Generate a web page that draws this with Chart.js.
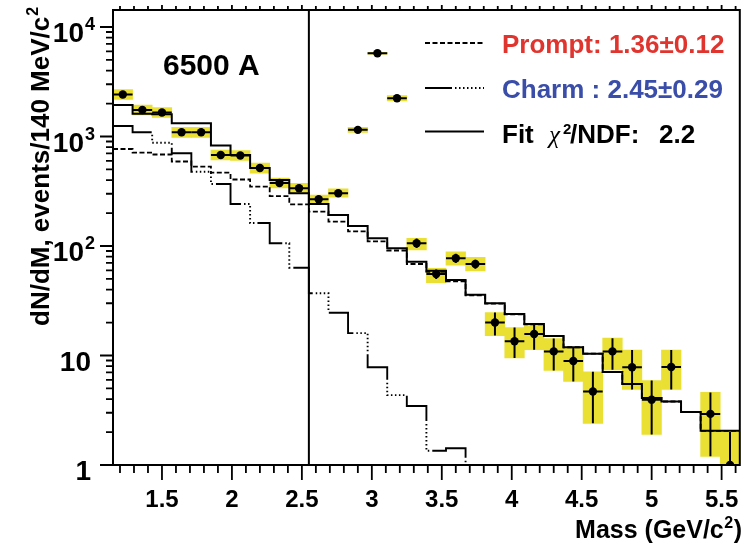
<!DOCTYPE html>
<html>
<head>
<meta charset="utf-8">
<title>6500 A dimuon mass spectrum</title>
<script src="https://cdn.jsdelivr.net/npm/chart.js@4.4.1/dist/chart.umd.min.js"></script>
<style>
html,body{margin:0;padding:0;background:#ffffff;}
#c{display:block;}
</style>
</head>
<body>
<canvas id="c" width="744" height="545"></canvas>
<script>
// ---------------- data ----------------
const massBins = [1.22,1.36,1.50,1.64,1.78,1.92,2.06,2.20,2.34,2.48,2.62,2.76,2.90,3.04,3.18,3.32,
                  3.46,3.60,3.74,3.88,4.02,4.16,4.30,4.44,4.58,4.72,4.86,5.00,5.14,5.28,5.42,5.56];
const binWidth = 0.14;
const fitBoundary = 2.55;
const xMin = 1.15, xMax = 5.63, yMin = 1, yMax = 14300;

const dataCounts = [2420,1746,1656,1092,1092,678,671,515,376,337,267,303,1150,5750,2235,106,
                    55.5,77.3,68.5,20.0,13.5,15.7,10.9,8.9,4.7,10.9,7.8,3.95,7.85,null,2.93,1.0];
const boxLow  = [2180,1573,1490,983,983,610,604,463,339,303,242,279,1087,5640,2110,91.9,
                 46.2,67.0,59.2,15.2,9.5,11.3,7.3,5.8,2.4,7.4,4.9,1.9,4.9,null,1.2,0.5];
const boxHigh = [2685,1938,1840,1214,1214,752,745,572,418,374,292,332,1210,5860,2370,117.5,
                 62.5,88.7,78.9,24.7,18.0,19.7,14.3,11.7,7.1,14.4,11.2,5.9,11.2,null,4.6,2.0];
const statLow  = [2350,1700,1610,1060,1060,655,650,497,362,324,256,291,1120,5650,2180,96,
                  50,70,62,15.2,9.5,11.3,7.3,5.8,2.4,7.4,4.9,1.9,4.9,null,1.2,0.5];
const statHigh = [2490,1790,1700,1125,1125,700,692,533,390,350,278,315,1180,5850,2290,117,
                  61,85,75,24.7,18.0,19.7,14.3,11.7,7.1,14.4,11.2,5.9,11.2,null,4.6,2.0];

const fitHist    = [1941,1610,1600,1321,1321,828,678,515,401,303,242,192,152,117.6,95.3,72,
                    59.5,48.9,35.8,30.0,23.9,19.4,15.1,11.9,10.4,7.06,5.5,4.1,3.8,3.05,2.05,2.05];
const promptHist = [769,714,685,591,530,467,405,348,286,240,206,167,136,110,91,68.5,
                    58.2,47.5,35.5,29.8,23.8,19.3,15.0,11.9,10.4,7.05,5.5,4.1,3.8,3.05,2.05,2.05];
const charmHist  = [1247,1092,877,703,477,368,242,162,106,63.4,37,24.6,16,7.8,4.35,3.46,
                    1.35,1.42,0.6,0.45,0.35,0.25,0.2,0.15,0.12,0.09,0.07,0.05,0.04,0.03,0.02,0.02];

const xTickValues = [1.5,2,2.5,3,3.5,4,4.5,5,5.5];
const xTickLabels = ['1.5','2','2.5','3','3.5','4','4.5','5','5.5'];
const yTickValues = [1,10,100,1000,10000];
const yTickMantissa = ['1','10','10','10','10'];
const yTickExponent = ['','','2','3','4'];

const panelTitle = '6500 A';
const xTitle = ['Mass (GeV/c', '2', ')'];
const yTitle = ['dN/dM, events/140 MeV/c', '2'];
const legendPrompt = 'Prompt: 1.36\u00B10.12';
const legendCharm  = 'Charm : 2.45\u00B10.29';
const legendFit = ['Fit', '\u03C7', '2', '/NDF:', '2.2'];

// ---------------- styles ----------------
const FONT = '"Liberation Sans", Arial, Helvetica, sans-serif';
const YELLOW = 'rgb(234,224,52)';
const RED = '#E0352F';
const BLUE = '#3A4DA8';
const promptDash = [5, 2.5];
const charmDash = [45,3,1.5,2.5,1.5,2.5,1.5,2.5,1.5,2.5,1.5,2.5,1.5,2.5,1.5,2.5,1.5,3];
const charmLegendDash = [27,3,1.5,2.5,1.5,2.5,1.5,2.5,1.5,2.5,1.5,2.5,1.5,2.5,1.5,2.5,1.5,3];

function histSteps(values) {
  const pts = values.map((v, i) => ({x: massBins[i] - binWidth / 2, y: v}));
  const last = values.length - 1;
  pts.push({x: massBins[last] + binWidth / 2, y: values[last]});
  return pts;
}
const boxData = [];
const pointData = [];
massBins.forEach((m, i) => {
  if (dataCounts[i] == null) return;
  boxData.push({x: m, y: [boxLow[i], boxHigh[i]]});
  pointData.push({x: m, y: dataCounts[i]});
});

const rootStyle = {
  id: 'rootStyle',
  beforeDatasetDraw(chart, args) {
    if (args.index !== 0) return;
    const {ctx, chartArea: a, scales: {x, y}} = chart;
    ctx.save();
    ctx.beginPath();
    ctx.rect(a.left, a.top, a.right - a.left, a.bottom - a.top);
    ctx.clip();
    ctx.strokeStyle = '#000';
    ctx.lineWidth = 2;
    massBins.forEach((m, i) => {
      if (dataCounts[i] == null) return;
      const px = x.getPixelForValue(m);
      const py = y.getPixelForValue(dataCounts[i]);
      ctx.beginPath();
      ctx.moveTo(x.getPixelForValue(m - binWidth / 2), py);
      ctx.lineTo(x.getPixelForValue(m + binWidth / 2), py);
      ctx.moveTo(px, y.getPixelForValue(statLow[i]));
      ctx.lineTo(px, y.getPixelForValue(statHigh[i]));
      ctx.stroke();
    });
    ctx.restore();
  },
  afterDraw(chart) {
    const {ctx, chartArea: a, scales: {x, y}} = chart;
    ctx.save();
    ctx.strokeStyle = '#000';
    ctx.fillStyle = '#000';
    ctx.setLineDash([]);
    // fit-region boundary
    ctx.lineWidth = 2;
    const bx = x.getPixelForValue(fitBoundary);
    ctx.beginPath(); ctx.moveTo(bx, a.top); ctx.lineTo(bx, a.bottom); ctx.stroke();
    // frame
    ctx.strokeRect(a.left, a.top, a.right - a.left, a.bottom - a.top);
    // x ticks (bottom outside + top outside)
    ctx.lineWidth = 1.8;
    ctx.beginPath();
    for (let k = 12; k <= 56; k++) {
      const v = k / 10;
      const px = x.getPixelForValue(v);
      const major = (k % 5 === 0);
      ctx.moveTo(px, a.bottom); ctx.lineTo(px, a.bottom + (major ? 15 : 8));
      ctx.moveTo(px, a.top); ctx.lineTo(px, a.top - (major ? 5 : 4));
    }
    // y ticks (left, outside)
    for (let n = 0; n <= 4; n++) {
      for (let k = 1; k <= 9; k++) {
        const v = k * Math.pow(10, n);
        if (v > yMax) break;
        const py = y.getPixelForValue(v);
        ctx.moveTo(a.left, py); ctx.lineTo(a.left - (k === 1 ? 13 : 7), py);
      }
    }
    ctx.stroke();
    // x tick labels
    ctx.font = 'bold 24px ' + FONT;
    ctx.textAlign = 'center';
    ctx.textBaseline = 'alphabetic';
    xTickValues.forEach((v, i) => ctx.fillText(xTickLabels[i], x.getPixelForValue(v), 507));
    // y tick labels
    yTickValues.forEach((v, i) => {
      const py = y.getPixelForValue(v);
      const base = py + 15;
      if (yTickExponent[i]) {
        ctx.font = 'bold 28px ' + FONT;
        ctx.textAlign = 'right';
        ctx.fillText(yTickMantissa[i], 84, base);
        ctx.font = 'bold 18px ' + FONT;
        ctx.textAlign = 'left';
        ctx.fillText(yTickExponent[i], 85, base - 12);
      } else {
        ctx.font = 'bold 28px ' + FONT;
        ctx.textAlign = 'right';
        ctx.fillText(yTickMantissa[i], 91, base);
      }
    });
    // x title (right aligned at frame edge)
    ctx.textAlign = 'left';
    ctx.font = 'bold 25px ' + FONT;
    const wClose = ctx.measureText(xTitle[2]).width;
    ctx.font = 'bold 16px ' + FONT;
    const wSup = ctx.measureText(xTitle[1]).width;
    ctx.font = 'bold 25px ' + FONT;
    const wMain = ctx.measureText(xTitle[0]).width;
    let xe = 742;
    ctx.fillText(xTitle[2], xe - wClose, 538);
    ctx.font = 'bold 16px ' + FONT;
    ctx.fillText(xTitle[1], xe - wClose - wSup - 0.5, 528);
    ctx.font = 'bold 25px ' + FONT;
    ctx.fillText(xTitle[0], xe - wClose - wSup - 1 - wMain, 538);
    // y title (rotated)
    ctx.save();
    ctx.translate(49, 326);
    ctx.rotate(-Math.PI / 2);
    ctx.font = 'bold 26px ' + FONT;
    ctx.textAlign = 'left';
    ctx.fillText(yTitle[0], 0, 0);
    const wy = ctx.measureText(yTitle[0]).width;
    ctx.font = 'bold 16px ' + FONT;
    ctx.fillText(yTitle[1], wy + 1, -11);
    ctx.restore();
    // panel title
    ctx.font = 'bold 30px ' + FONT;
    ctx.textAlign = 'left';
    ctx.fillText(panelTitle, 163, 75);
    // legend
    const lx0 = 425, lx1 = 484;
    ctx.lineWidth = 1.8;
    ctx.setLineDash(promptDash);
    ctx.beginPath(); ctx.moveTo(lx0, 43); ctx.lineTo(lx1, 43); ctx.stroke();
    ctx.setLineDash(charmLegendDash);
    ctx.beginPath(); ctx.moveTo(lx0, 88); ctx.lineTo(lx1, 88); ctx.stroke();
    ctx.setLineDash([]);
    ctx.lineWidth = 2;
    ctx.beginPath(); ctx.moveTo(lx0, 131.5); ctx.lineTo(lx1, 131.5); ctx.stroke();
    ctx.font = 'bold 26px ' + FONT;
    ctx.fillStyle = RED;
    ctx.fillText(legendPrompt, 502, 53);
    ctx.fillStyle = BLUE;
    ctx.fillText(legendCharm, 502, 98);
    ctx.fillStyle = '#000';
    ctx.fillText(legendFit[0], 502, 143);
    ctx.font = 'italic 25px "Liberation Serif", "DejaVu Serif", serif';
    ctx.fillText(legendFit[1], 549, 143);
    ctx.font = 'bold 15px ' + FONT;
    ctx.fillText(legendFit[2], 563, 134);
    ctx.font = 'bold 26px ' + FONT;
    ctx.fillText(legendFit[3], 570, 143);
    ctx.fillText(legendFit[4], 659, 143);
    ctx.restore();
  }
};

new Chart(document.getElementById('c').getContext('2d'), {
  type: 'line',
  data: {
    datasets: [
      {type: 'line', label: 'Data', data: pointData, showLine: false, pointRadius: 4.2,
       pointBackgroundColor: '#000', pointBorderColor: '#000', pointBorderWidth: 0, order: 0},
      {type: 'line', label: 'Fit', data: histSteps(fitHist), stepped: true, borderColor: '#000',
       borderWidth: 2, pointRadius: 0, fill: false, order: 1},
      {type: 'line', label: 'Charm', data: histSteps(charmHist), stepped: true, borderColor: '#000',
       borderWidth: 1.9, borderDash: charmDash, pointRadius: 0, fill: false, order: 2},
      {type: 'line', label: 'Prompt', data: histSteps(promptHist), stepped: true, borderColor: '#000',
       borderWidth: 1.8, borderDash: promptDash, pointRadius: 0, fill: false, order: 3},
      {type: 'bar', label: 'Syst', data: boxData, backgroundColor: YELLOW, borderWidth: 0,
       barPercentage: 1, categoryPercentage: 1, order: 5}
    ]
  },
  options: {
    responsive: false,
    devicePixelRatio: 1,
    animation: false,
    layout: {padding: {left: 113, right: 4, top: 10, bottom: 80}},
    scales: {
      x: {type: 'linear', min: xMin, max: xMax, bounds: 'data', offset: false, display: false},
      y: {type: 'logarithmic', min: yMin, max: yMax, bounds: 'data', display: false}
    },
    plugins: {legend: {display: false}, tooltip: {enabled: false}}
  },
  plugins: [rootStyle]
});
</script>
</body>
</html>
